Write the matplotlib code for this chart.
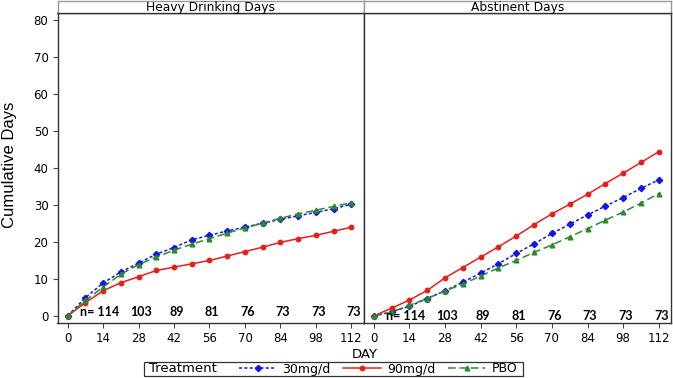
import matplotlib
matplotlib.use("Agg")
import matplotlib.pyplot as plt
from matplotlib.lines import Line2D
from matplotlib.patches import Rectangle

plt.rcParams['font.family'] = ['DejaVu Sans']

# data (weekly cumulative days)
days = [0, 7, 14, 21, 28, 35, 42, 49, 56, 63, 70, 77, 84, 91, 98, 105, 112]

heavy_30 = [0, 4.95, 8.9, 11.9, 14.3, 16.7, 18.5, 20.6, 21.8, 23.0, 24.0, 25.1, 26.1, 27.1, 28.0, 29.0, 30.2]
heavy_90 = [0, 3.6, 6.8, 9.0, 10.6, 12.3, 13.2, 14.1, 15.0, 16.2, 17.4, 18.6, 19.9, 20.9, 21.8, 22.9, 24.0]
heavy_pbo = [0, 4.2, 7.8, 11.3, 13.9, 15.9, 17.8, 19.4, 20.9, 22.4, 23.8, 25.1, 26.4, 27.6, 28.6, 29.6, 30.6]

abst_30 = [0, 1.1, 2.6, 4.7, 6.8, 9.1, 11.6, 14.1, 16.9, 19.5, 22.3, 24.8, 27.3, 29.7, 32.0, 34.5, 36.8]
abst_90 = [0, 2.1, 4.3, 6.9, 10.3, 13.1, 15.9, 18.7, 21.6, 24.7, 27.6, 30.2, 32.9, 35.8, 38.6, 41.5, 44.4]
abst_pbo = [0, 1.0, 2.9, 4.7, 6.8, 8.6, 10.8, 13.0, 15.0, 17.2, 19.2, 21.4, 23.6, 25.9, 28.1, 30.5, 33.1]

n_days = [14, 28, 42, 56, 70, 84, 98, 112]
n_counts = [114, 103, 89, 81, 76, 73, 73, 73]

panel_titles = ["Heavy Drinking Days", "Abstinent Days"]
x_ticks = [0, 14, 28, 42, 56, 70, 84, 98, 112]
y_ticks = [0, 10, 20, 30, 40, 50, 60, 70, 80]

blue = '#1414e6'
red = '#e3201c'
green = '#2b8a2b'

W, H = 673, 378
fig = plt.figure(figsize=(W / 100, H / 100), dpi=100)

def fx(px):
    return px / W

def fy(py):
    return 1 - py / H

panels = [(57.5, 363.5), (363.5, 671)]
top, strip_top, bottom = 13, 1, 323

series = [
    (heavy_30, heavy_90, heavy_pbo),
    (abst_30, abst_90, abst_pbo),
]

for i, (x0, x1) in enumerate(panels):
    ax = fig.add_axes([fx(x0), fy(bottom), fx(x1 - x0), fy(top) - fy(bottom)])
    s30, s90, spbo = series[i]
    ax.plot(days, s30, color=blue, lw=1.1, ls=(0, (2, 1.5)), marker='D', ms=3.2, zorder=3)
    ax.plot(days, s90, color=red, lw=1.1, ls='-', marker='o', ms=3.2, zorder=3)
    ax.plot(days, spbo, color=green, lw=1.1, ls=(0, (5, 2.5)), marker='^', ms=3.4, zorder=3)

    ax.set_xlim(-4, 116.8)
    ax.set_ylim(-1.9, 81.9)
    ax.set_xticks(x_ticks)
    ax.set_yticks(y_ticks)
    ax.tick_params(axis='both', labelsize=8.5, length=3.5, width=0.8, color='#444444', pad=3)
    if i == 1:
        ax.tick_params(axis='y', left=False, labelleft=False)
    for sp in ax.spines.values():
        sp.set_color('#333333')
        sp.set_linewidth(1.0)

    # n at risk, drawn in the panel
    ny = 1.0 if i == 0 else 0.0
    for j, (d, n) in enumerate(zip(n_days, n_counts)):
        label = "n= %d" % n if j == 0 else str(n)
        xpos = d - 1.5 if j == 0 else d + 1
        ax.text(xpos, ny, label, ha='center', va='center', fontsize=9,
                fontweight='bold', family=['Lato', 'DejaVu Sans'], zorder=4)

    # strip title
    sax = fig.add_axes([fx(x0), fy(top), fx(x1 - x0), fy(strip_top) - fy(top)])
    sax.set_xticks([])
    sax.set_yticks([])
    for sp in sax.spines.values():
        sp.set_color('#999999')
        sp.set_linewidth(1.0)
    sax.spines['bottom'].set_color('#333333')
    sax.text(0.5, 0.45, panel_titles[i], ha='center', va='center', fontsize=8.8,
             transform=sax.transAxes)

fig.text(fx(10), fy(165), "Cumulative Days", rotation=90, ha='center', va='center',
         fontsize=12, family=['Liberation Sans Narrow', 'Liberation Sans'])
fig.text(fx(365), fy(354), "DAY", ha='center', va='center', fontsize=9.5)

# legend box
fig.patches.append(Rectangle((fx(144), fy(376)), fx(523 - 144), fy(362) - fy(376),
                             transform=fig.transFigure, fill=False, ec='#333333', lw=0.9))
fig.text(fx(149), fy(369), "Treatment", ha='left', va='center', fontsize=9.5)
handles = [
    Line2D([], [], color=blue, lw=1.1, ls=(0, (2, 1.5)), marker='D', ms=3.2),
    Line2D([], [], color=red, lw=1.1, ls='-', marker='o', ms=3.2),
    Line2D([], [], color=green, lw=1.1, ls=(0, (5, 2.5)), marker='^', ms=3.4),
]
fig.legend(handles, ["30mg/d", "90mg/d", "PBO"], ncol=3, frameon=False,
           loc='center', bbox_to_anchor=(fx(378), fy(369)), fontsize=9,
           handlelength=3.0, handletextpad=0.5, columnspacing=1.0,
           borderpad=0, borderaxespad=0)

fig.savefig("out.png", dpi=100)
